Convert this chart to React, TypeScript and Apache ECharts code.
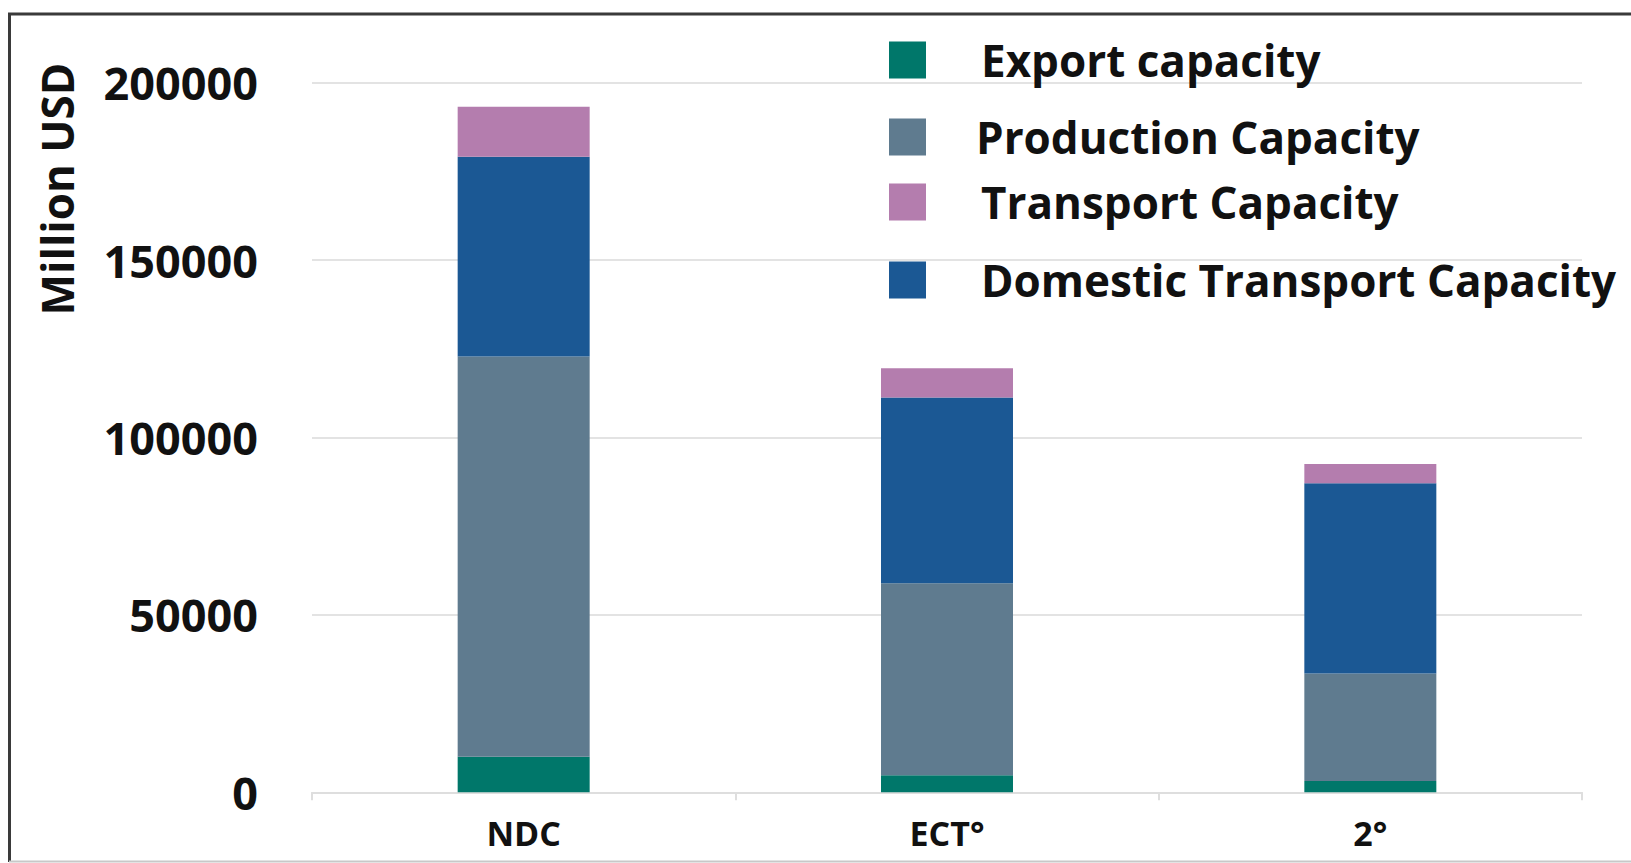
import React, { useEffect, useRef } from "react";
import * as echarts from "echarts";

const categories = ["NDC", "ECT°", "2°"];
const exportCapacity = [10000, 4800, 3200];
const productionCapacity = [112800, 54100, 30300];
const domesticTransportCapacity = [56300, 52400, 53600];
const transportCapacity = [14100, 8200, 5400];
const yTicks = { min: 0, max: 200000, interval: 50000 };

const seriesNames = [
  "Export capacity",
  "Production Capacity",
  "Transport Capacity",
  "Domestic Transport Capacity",
];
const colors = {
  "Export capacity": "#00776A",
  "Production Capacity": "#5F7B8F",
  "Transport Capacity": "#B47DAE",
  "Domestic Transport Capacity": "#1B5894",
};

const FONT = "'Open Sans', 'Noto Sans', sans-serif";

export default function App() {
  const ref = useRef<HTMLDivElement>(null);
  useEffect(() => {
    if (!ref.current) return;
    const chart = echarts.init(ref.current, undefined, { renderer: "svg" });
    const legendTops = [38, 115, 180, 258];
    const legendTextPad = [50, 45, 50, 50];
    const legends = seriesNames.map((n, i) => ({
      data: [n],
      orient: "vertical",
      left: 889,
      top: legendTops[i],
      padding: 0,
      itemWidth: 37,
      itemHeight: 37,
      icon: "rect",
      selectedMode: false,
      textStyle: {
        fontFamily: FONT,
        fontWeight: "bold",
        fontSize: 44,
        color: "#111",
        padding: [0, 0, 0, legendTextPad[i]],
      },
    }));
    const mk = (name: string, data: number[]) => ({
      name,
      type: "bar",
      stack: "total",
      barWidth: 132,
      data,
      itemStyle: { color: (colors as any)[name] },
    });
    chart.setOption({
      animation: false,
      backgroundColor: "#fff",
      legend: legends,
      grid: { left: 312, right: 49, top: 82.7, bottom: 70.7, containLabel: false },
      xAxis: {
        type: "category",
        data: categories,
        axisLine: { lineStyle: { color: "#dedede", width: 2 } },
        axisTick: { show: true, length: 8, lineStyle: { color: "#dedede", width: 2 } },
        axisLabel: {
          fontFamily: FONT,
          fontWeight: "bold",
          fontSize: 34,
          color: "#111",
          margin: 24,
        },
      },
      yAxis: {
        type: "value",
        min: yTicks.min,
        max: yTicks.max,
        interval: yTicks.interval,
        axisLine: { show: false },
        axisTick: { show: false },
        splitLine: { lineStyle: { color: "#e3e3e3", width: 2 } },
        axisLabel: {
          fontFamily: FONT,
          fontWeight: "bold",
          fontSize: 45,
          color: "#111",
          margin: 54,
          formatter: (v: number) => String(v),
        },
      },
      series: [
        mk("Export capacity", exportCapacity),
        mk("Production Capacity", productionCapacity),
        mk("Domestic Transport Capacity", domesticTransportCapacity),
        mk("Transport Capacity", transportCapacity),
      ],
      graphic: [
        { type: "line", shape: { x1: 8, y1: 14, x2: 1631, y2: 14 }, style: { stroke: "#3a3a3a", lineWidth: 3 } },
        { type: "line", shape: { x1: 9.5, y1: 13, x2: 9.5, y2: 862 }, style: { stroke: "#3a3a3a", lineWidth: 3 } },
        { type: "line", shape: { x1: 9, y1: 861.5, x2: 1631, y2: 861.5 }, style: { stroke: "#c8c8c8", lineWidth: 2 } },
        {
          type: "text",
          x: 57,
          y: 189,
          rotation: Math.PI / 2,
          style: {
            text: "Million USD",
            fontFamily: FONT,
            fontWeight: "bold",
            fontSize: 44,
            fill: "#111",
            align: "center",
            verticalAlign: "middle",
          },
        },
      ],
    });
    return () => chart.dispose();
  }, []);
  return (
    <div
      ref={ref}
      style={{ position: "fixed", left: 0, top: 0, width: 1631, height: 863 }}
    />
  );
}
